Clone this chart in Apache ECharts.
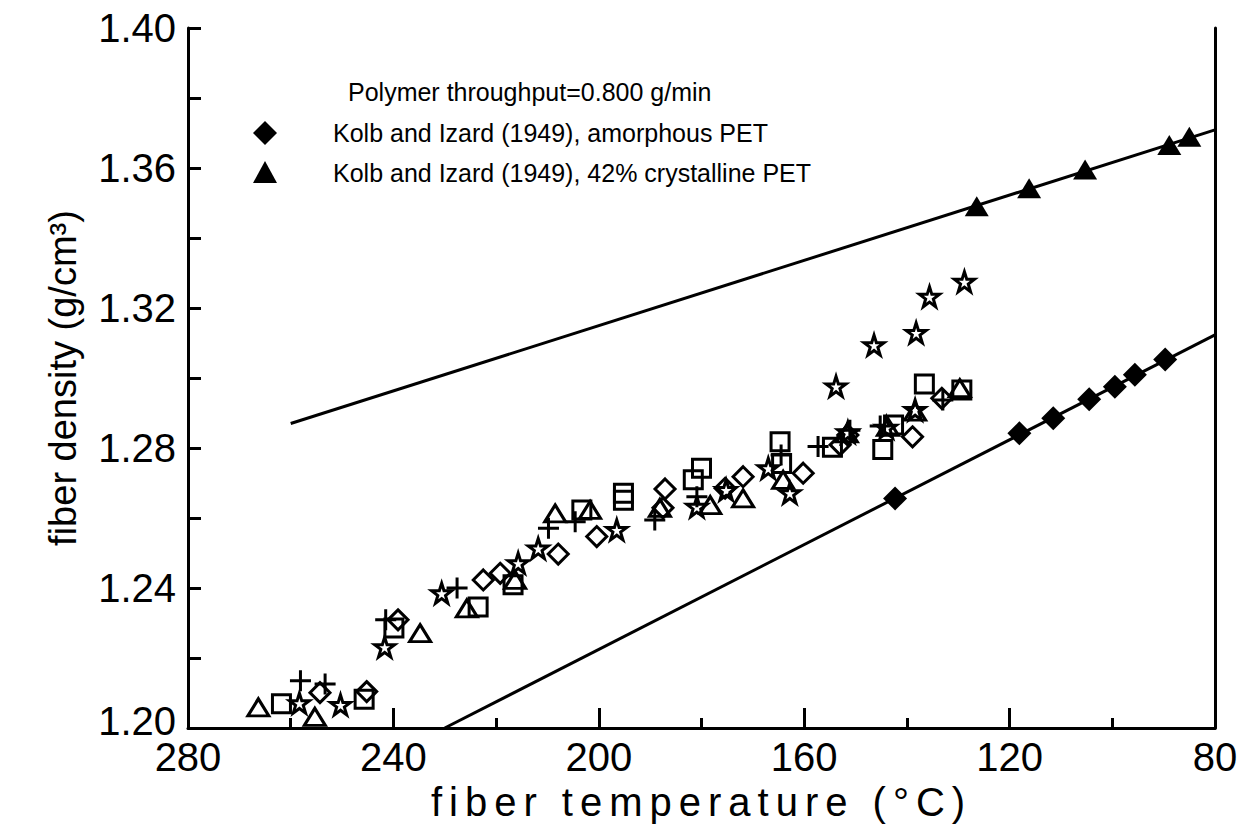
<!DOCTYPE html>
<html>
<head>
<meta charset="utf-8">
<title>Fiber density vs fiber temperature</title>
<script src="https://cdn.jsdelivr.net/npm/echarts@6/dist/echarts.min.js"></script>
<style>
  html, body { margin: 0; padding: 0; background: #ffffff; }
  #chart { width: 1241px; height: 832px; }
</style>
</head>
<body>
<div id="chart"></div>
<script>
// Axis ranges (temperature axis runs hot -> cold, left to right)
const tempMin = 80, tempMax = 280, tempStep = 40;
const densMin = 1.20, densMax = 1.40, densStep = 0.04;

// Kolb and Izard (1949) reference data
const amorphousT = [142.3, 118.1, 111.5, 104.5, 99.5, 95.6, 89.7];
const amorphousD = [1.2656, 1.2842, 1.2885, 1.2939, 1.2975, 1.3009, 1.3053];
const crystallineT = [126.4, 116.2, 105.3, 88.9, 85.0];
const crystallineD = [1.3491, 1.3542, 1.3596, 1.3666, 1.3689];

// Reference lines through each data set
const amorphousLineT = [230, 80];
const amorphousLineD = [1.200, 1.3123];
const crystallineLineT = [260, 80];
const crystallineLineD = [1.287, 1.3709];

// Measured on-line fiber densities, one marker style per spinning run
const triT = [266.3, 255.3, 234.8, 225.7, 216.3, 208.5, 201.7, 188.1, 178.3, 171.9, 164.1, 151.7, 143.7, 138.4, 129.7];
const triD = [1.2059, 1.2032, 1.2271, 1.2342, 1.2423, 1.2613, 1.2623, 1.2629, 1.2637, 1.2656, 1.2709, 1.2842, 1.2860, 1.2904, 1.2971];

const sqT = [261.8, 245.7, 239.9, 223.5, 216.7, 203.3, 195.2, 195.2, 181.6, 180.0, 164.7, 164.4, 154.5, 144.7, 142.6, 136.6, 129.3];
const sqD = [1.2069, 1.2082, 1.2286, 1.2346, 1.2409, 1.2623, 1.2651, 1.2671, 1.2709, 1.2742, 1.2818, 1.2756, 1.2802, 1.2796, 1.2866, 1.2983, 1.2966];

const dmT = [254.3, 245.2, 239.1, 222.5, 219.2, 207.9, 200.4, 187.1, 187.5, 175.4, 171.9, 160.2, 153.0, 151.5, 138.9, 133.2];
const dmD = [1.2101, 1.2104, 1.2309, 1.2423, 1.2442, 1.2497, 1.2547, 1.2683, 1.2629, 1.2685, 1.2718, 1.2728, 1.2809, 1.2837, 1.2832, 1.2942];

const plT = [258.1, 253.3, 241.5, 227.6, 209.8, 204.6, 189.1, 180.9, 164.5, 157.3, 151.1, 145.2, 133.0];
const plD = [1.2135, 1.2126, 1.2309, 1.2400, 1.2571, 1.2589, 1.2594, 1.2661, 1.2780, 1.2804, 1.2851, 1.2863, 1.2937];

const stT = [258.3, 250.3, 241.7, 230.6, 215.7, 211.8, 196.5, 180.9, 175.2, 167.0, 162.8, 153.8, 151.5, 146.4, 144.0, 138.4, 138.2, 135.6, 128.8];
const stD = [1.2071, 1.2066, 1.2231, 1.2385, 1.2471, 1.2513, 1.2566, 1.2632, 1.2680, 1.2742, 1.2671, 1.2976, 1.2845, 1.3094, 1.2858, 1.2909, 1.3129, 1.3232, 1.3275];

// Titles and annotation texts
const xTitle = 'fiber temperature (°C)';
const yTitle = 'fiber density (g/cm³)';
const noteText = 'Polymer throughput=0.800 g/min';
const legendTexts = ['Kolb and Izard (1949), amorphous PET', 'Kolb and Izard (1949), 42% crystalline PET'];

const FONT = 'Liberation Sans';
const INK = '#000000';

const zip = (xs, ys) => xs.map((x, i) => [x, ys[i]]);

const STAR = 'path://M50,2 L61,36 L97,36 L68,57 L79,92 L50,71 L21,92 L32,57 L3,36 L39,36 Z';
const PLUS = 'path://M0,50 L100,50 M50,0 L50,100';

function openSeries(name, t, d, symbol, size) {
  return {
    name: name,
    type: 'scatter',
    data: zip(t, d),
    symbol: symbol,
    symbolSize: size,
    itemStyle: { color: 'rgba(0,0,0,0)', borderColor: INK, borderWidth: 3, opacity: 1 },
    emphasis: { disabled: true },
    z: 3
  };
}

const chart = echarts.init(document.getElementById('chart'), null, { renderer: 'svg' });

chart.setOption({
  animation: false,
  backgroundColor: '#ffffff',
  grid: { left: 188, right: 26, top: 28, bottom: 104, containLabel: false },
  xAxis: {
    type: 'value',
    inverse: true,
    min: tempMin, max: tempMax, interval: tempStep,
    name: xTitle,
    nameLocation: 'middle',
    nameGap: 34,
    nameTextStyle: { fontFamily: FONT, fontSize: 40, color: INK },
    axisLine: { show: true, onZero: false, lineStyle: { color: INK, width: 3 } },
    axisTick: { show: true, inside: true, length: 20, lineStyle: { color: INK, width: 3 } },
    minorTick: { show: true, splitNumber: 2, length: 10, lineStyle: { color: INK, width: 3 } },
    splitLine: { show: false },
    axisLabel: { fontFamily: FONT, fontSize: 40, color: INK, margin: 9 }
  },
  yAxis: [{
    type: 'value',
    min: densMin, max: densMax, interval: densStep,
    name: yTitle,
    nameLocation: 'middle',
    nameGap: 106,
    nameTextStyle: { fontFamily: FONT, fontSize: 38, color: INK },
    axisLine: { show: true, onZero: false, lineStyle: { color: INK, width: 3 } },
    axisTick: { show: true, inside: true, length: 13, lineStyle: { color: INK, width: 3 } },
    minorTick: { show: true, splitNumber: 2, length: 13, lineStyle: { color: INK, width: 3 } },
    splitLine: { show: false },
    axisLabel: {
      fontFamily: FONT, fontSize: 40, color: INK, margin: 12,
      // the bottom label sits a little above the corner, clear of the 280 label
      formatter: v => (Math.abs(v - densMin) < 1e-9 ? '{lo|' + v.toFixed(2) + '}' : v.toFixed(2)),
      rich: { lo: { fontFamily: FONT, fontSize: 40, color: INK, padding: [0, 0, 14, 0] } }
    }
  }, {
    type: 'value',
    position: 'right',
    min: densMin, max: densMax, interval: densStep,
    axisLine: { show: true, onZero: false, lineStyle: { color: INK, width: 3 } },
    axisTick: { show: false },
    axisLabel: { show: false },
    splitLine: { show: false }
  }],
  series: [
    {
      name: 'amorphous line', type: 'line', data: zip(amorphousLineT, amorphousLineD),
      symbol: 'none', lineStyle: { color: INK, width: 3 }, z: 2, silent: true
    },
    {
      name: 'crystalline line', type: 'line', data: zip(crystallineLineT, crystallineLineD),
      symbol: 'none', lineStyle: { color: INK, width: 3 }, z: 2, silent: true
    },
    {
      name: legendTexts[0], type: 'scatter', data: zip(amorphousT, amorphousD),
      symbol: 'diamond', symbolSize: 24, itemStyle: { color: INK, opacity: 1 }, z: 4
    },
    {
      name: legendTexts[1], type: 'scatter', data: zip(crystallineT, crystallineD),
      symbol: 'triangle', symbolSize: [24, 20], itemStyle: { color: INK, opacity: 1 }, z: 4
    },
    openSeries('open triangles', triT, triD, 'triangle', [21, 17]),
    openSeries('open squares', sqT, sqD, 'rect', 18),
    openSeries('open diamonds', dmT, dmD, 'diamond', 20),
    openSeries('plus', plT, plD, PLUS, 21),
    openSeries('stars', stT, stD, STAR, 20)
  ],
  graphic: [
    {
      type: 'text', left: 348, top: 79,
      style: { text: noteText, font: '25px "Liberation Sans"', fill: INK }
    },
    {
      type: 'polygon', shape: { points: [[265, 121], [277, 133], [265, 145], [253, 133]] },
      style: { fill: INK }
    },
    {
      type: 'text', left: 333, top: 120,
      style: { text: legendTexts[0], font: '25px "Liberation Sans"', fill: INK }
    },
    {
      type: 'polygon', shape: { points: [[265, 161], [277, 183], [253, 183]] },
      style: { fill: INK }
    },
    {
      type: 'text', left: 333, top: 160,
      style: { text: legendTexts[1], font: '25px "Liberation Sans"', fill: INK }
    }
  ]
});

// Widen the tracking of the x title, in the style of the plotter lettering
const tracking = [[xTitle, 7]];
function applyTracking() {
  document.querySelectorAll('#chart svg text').forEach(el => {
    const s = el.textContent;
    tracking.forEach(([t, ls]) => {
      if (s === t) el.setAttribute('letter-spacing', ls);
    });
  });
}
applyTracking();
chart.on('finished', applyTracking);
</script>
</body>
</html>
